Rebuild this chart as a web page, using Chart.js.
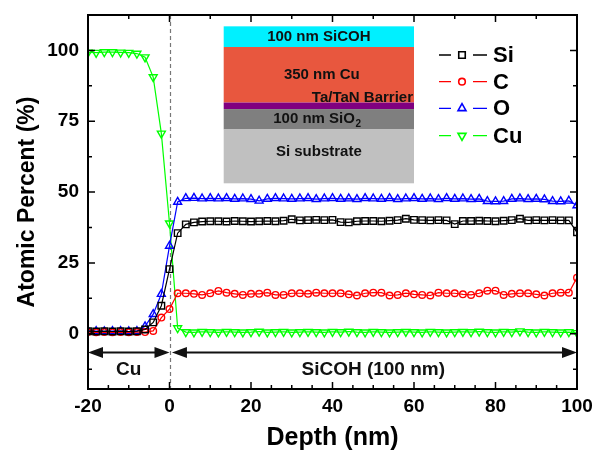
<!DOCTYPE html>
<html>
<head>
<meta charset="utf-8">
<script src="https://cdn.jsdelivr.net/npm/chart.js@4.4.0/dist/chart.umd.min.js"></script>
<style>
  html, body { margin: 0; padding: 0; background: #fff; }
  canvas { display: block; }
</style>
</head>
<body>
<canvas id="chart" width="594" height="453"></canvas>
<script>
// depth profile (nm) and atomic percent of each element
const depth = [-20, -18, -16, -14, -12, -10, -8, -6, -4, -2, 0, 2, 4, 6, 8, 10, 12, 14, 16, 18, 20,
    22, 24, 26, 28, 30, 32, 34, 36, 38, 40, 42, 44, 46, 48, 50, 52, 54, 56, 58, 60,
    62, 64, 66, 68, 70, 72, 74, 76, 78, 80, 82, 84, 86, 88, 90, 92, 94, 96, 98, 100];

const si = [0.9, 0.8, 0.9, 0.8, 0.9, 0.8, 0.9, 1.5, 4.0, 9.9, 22.8, 35.5,
    38.6, 39.3, 39.6, 39.7, 39.7, 39.6, 39.8, 39.7, 39.6, 39.7, 39.8, 39.7, 39.9, 40.4, 40.0, 40.1,
    40.2, 40.1, 40.2, 39.4, 39.3, 39.7, 39.8, 39.8, 39.7, 39.9, 40.1, 40.6, 40.2, 40.1, 40.0, 40.1,
    40.0, 38.7, 39.8, 39.8, 39.9, 39.8, 39.7, 39.9, 40.1, 40.6, 40.0, 40.1, 40.0, 40.1, 40.0, 40.0, 35.8];

const carbon = [0.6, 0.5, 0.6, 0.5, 0.6, 0.5, 0.6, 0.6, 1.0, 5.7, 8.7, 14.3,
    14.3, 14.1, 13.7, 14.3, 15.1, 14.5, 14.1, 13.7, 14.1, 14.1, 14.5, 13.7, 13.7, 14.3, 14.3, 14.1,
    14.5, 14.3, 14.3, 14.3, 13.9, 13.5, 14.3, 14.5, 14.5, 13.5, 13.7, 14.3, 13.9, 13.7, 13.5, 14.5,
    14.3, 14.3, 13.9, 13.7, 14.3, 15.2, 15.2, 13.7, 14.1, 14.3, 14.3, 13.9, 13.5, 14.3, 14.5, 14.5, 19.8];

const oxygen = [0.9, 0.9, 0.8, 0.9, 0.9, 0.8, 0.9, 2.6, 6.9, 14.0, 31.0, 46.5,
    47.8, 47.9, 47.7, 47.8, 47.7, 47.8, 47.6, 47.7, 47.5, 46.9, 47.6, 47.8, 47.7, 47.6, 47.7, 47.8,
    47.5, 47.7, 47.8, 47.6, 47.7, 47.5, 47.8, 47.7, 47.6, 47.8, 47.5, 47.7, 47.8, 47.6, 47.7, 47.5,
    47.8, 47.6, 47.7, 47.5, 47.6, 46.8, 46.7, 46.8, 47.6, 47.7, 47.5, 47.6, 47.4, 46.8, 46.7, 46.9, 45.3];

const copper = [99.3, 99.2, 99.4, 99.4, 99.3, 99.2, 98.9, 97.6, 90.6, 70.7, 39.0, 2.0,
    0.6, 0.5, 0.7, 0.6, 0.5, 0.7, 0.6, 0.5, 0.6, 0.8, 0.5, 0.6, 0.7, 0.5, 0.6, 0.7,
    0.6, 0.5, 0.7, 0.6, 0.8, 0.6, 0.5, 0.7, 0.6, 0.5, 0.6, 0.7, 0.6, 0.5, 0.7, 0.6,
    0.5, 0.6, 0.7, 0.6, 0.8, 0.6, 0.5, 0.7, 0.6, 0.9, 0.6, 0.5, 0.7, 0.6, 0.5, 0.6, 0.3];

const xTickLabels = [-20, 0, 20, 40, 60, 80, 100];
const yTickLabels = [0, 25, 50, 75, 100];

const FONT = "'Liberation Sans', Arial, sans-serif";

const series = [
    { label: 'Si', values: si, color: '#000000', style: 'rect', radius: 4.6, rotation: 0 },
    { label: 'C', values: carbon, color: '#ff0000', style: 'circle', radius: 3.3, rotation: 0 },
    { label: 'O', values: oxygen, color: '#0000ff', style: 'triangle', radius: 4.6, rotation: 0 },
    { label: 'Cu', values: copper, color: '#00ff00', style: 'triangle', radius: 4.6, rotation: 180 }
];

function drawMarker(ctx, s, x, y) {
    ctx.beginPath();
    if (s.style === 'rect') {
        const h = Math.SQRT1_2 * s.radius;
        ctx.rect(x - h, y - h, 2 * h, 2 * h);
    } else if (s.style === 'circle') {
        ctx.arc(x, y, s.radius, 0, Math.PI * 2);
    } else {
        let rad = s.rotation * Math.PI / 180;
        for (let k = 0; k < 3; k++) {
            const px = x + Math.sin(rad) * s.radius;
            const py = y - Math.cos(rad) * s.radius;
            if (k === 0) ctx.moveTo(px, py); else ctx.lineTo(px, py);
            rad += Math.PI * 2 / 3;
        }
        ctx.closePath();
    }
    ctx.stroke();
}

function arrowHead(ctx, tipX, y, dir) {
    ctx.beginPath();
    ctx.moveTo(tipX, y);
    ctx.lineTo(tipX - dir * 15, y - 5.5);
    ctx.lineTo(tipX - dir * 15, y + 5.5);
    ctx.closePath();
    ctx.fill();
}

const decorations = {
    id: 'decorations',
    beforeDatasetsDraw(chart) {
        const { ctx, chartArea: a, scales: { x } } = chart;
        ctx.save();
        ctx.strokeStyle = '#777';
        ctx.lineWidth = 1.2;
        ctx.setLineDash([4, 3]);
        const x0 = Math.round(x.getPixelForValue(0)) + 0.5;
        ctx.beginPath();
        ctx.moveTo(x0, a.top);
        ctx.lineTo(x0, a.bottom);
        ctx.stroke();
        ctx.restore();
    },
    afterDatasetsDraw(chart) {
        const { ctx, chartArea: a, scales: { x, y } } = chart;
        ctx.save();

        // layer stack inset
        const ix0 = x.getPixelForValue(13.3), ix1 = x.getPixelForValue(60);
        const layers = [
            [108.5, 101.2, '#00f0ff'],
            [101.2, 81.6, '#e8573e'],
            [81.6, 79.3, '#800080'],
            [79.3, 72.1, '#7f7f7f'],
            [72.1, 53.1, '#c0c0c0']
        ];
        layers.forEach(([top, bottom, color]) => {
            ctx.fillStyle = color;
            const py0 = y.getPixelForValue(top), py1 = y.getPixelForValue(bottom);
            ctx.fillRect(ix0, py0, ix1 - ix0, py1 - py0);
        });
        const cx = (ix0 + ix1) / 2;
        ctx.fillStyle = '#111';
        ctx.font = `bold 15px ${FONT}`;
        ctx.textAlign = 'center';
        ctx.textBaseline = 'middle';
        ctx.fillText('100 nm SiCOH', cx, y.getPixelForValue(104.9));
        ctx.fillText('350 nm Cu', cx + 3, y.getPixelForValue(91.3));
        ctx.fillText('Si substrate', cx, y.getPixelForValue(64.2));
        ctx.textAlign = 'right';
        ctx.fillText('Ta/TaN Barrier', ix1 - 1, y.getPixelForValue(83.3));
        // SiO2 with subscript
        const sioY = y.getPixelForValue(75.8);
        const mainTxt = '100 nm SiO';
        const wMain = ctx.measureText(mainTxt).width;
        ctx.font = `bold 10px ${FONT}`;
        const wSub = ctx.measureText('2').width;
        const sx = cx - 2 - (wMain + wSub) / 2;
        ctx.textAlign = 'left';
        ctx.font = `bold 15px ${FONT}`;
        ctx.fillText(mainTxt, sx, sioY);
        ctx.font = `bold 10px ${FONT}`;
        ctx.fillText('2', sx + wMain + 0.5, sioY + 5);

        // legend
        const lx = a.left + 351;
        const rows = [40, 66.7, 93.3, 120.7];
        series.forEach((s, i) => {
            const ly = a.top + rows[i];
            ctx.strokeStyle = s.color;
            ctx.lineWidth = 1.3;
            ctx.beginPath();
            ctx.moveTo(lx, ly);
            ctx.lineTo(lx + 12, ly);
            ctx.moveTo(lx + 34, ly);
            ctx.lineTo(lx + 48, ly);
            ctx.stroke();
            ctx.lineWidth = 1.6;
            drawMarker(ctx, s, lx + 23, ly);
            ctx.fillStyle = '#000';
            ctx.font = `bold 22px ${FONT}`;
            ctx.textAlign = 'left';
            ctx.textBaseline = 'middle';
            ctx.fillText(s.label, lx + 54, ly + 1);
        });

        // region arrows
        const regions = [
            { from: -20, to: 0, text: 'Cu', at: -10 },
            { from: 0.6, to: 100, text: 'SiCOH (100 nm)', at: 50 }
        ];
        const ay = y.getPixelForValue(-6.6);
        ctx.strokeStyle = '#111';
        ctx.fillStyle = '#111';
        ctx.lineWidth = 2;
        regions.forEach(r => {
            const p0 = x.getPixelForValue(r.from), p1 = x.getPixelForValue(r.to);
            ctx.beginPath();
            ctx.moveTo(p0 + 6, ay);
            ctx.lineTo(p1 - 6, ay);
            ctx.stroke();
            arrowHead(ctx, p0, ay, -1);
            arrowHead(ctx, p1, ay, 1);
            ctx.font = `bold 19px ${FONT}`;
            ctx.textAlign = 'center';
            ctx.textBaseline = 'middle';
            ctx.fillText(r.text, x.getPixelForValue(r.at), y.getPixelForValue(-12.7));
        });

        // frame and inward ticks
        ctx.strokeStyle = '#000';
        ctx.lineWidth = 2;
        ctx.strokeRect(a.left, a.top, a.right - a.left, a.bottom - a.top);
        ctx.lineWidth = 1.5;
        ctx.beginPath();
        for (let v = -20; v <= 100; v += 5) {
            const px = x.getPixelForValue(v);
            const len = v % 20 === 0 ? 7 : 4;
            ctx.moveTo(px, a.bottom);
            ctx.lineTo(px, a.bottom - len);
            if (v % 10 === 0) {
                ctx.moveTo(px, a.top);
                ctx.lineTo(px, a.top + len);
            }
        }
        for (let v = -12.5; v <= 112.5; v += 12.5) {
            const py = y.getPixelForValue(v);
            const len = v % 25 === 0 ? 7 : 4;
            ctx.moveTo(a.left, py);
            ctx.lineTo(a.left + len, py);
            ctx.moveTo(a.right, py);
            ctx.lineTo(a.right - len, py);
        }
        ctx.stroke();
        ctx.restore();
    }
};

new Chart(document.getElementById('chart'), {
    type: 'scatter',
    data: {
        datasets: series.map(s => ({
            label: s.label,
            data: depth.map((d, i) => ({ x: d, y: s.values[i] })),
            showLine: true,
            borderColor: s.color,
            borderWidth: 1.2,
            backgroundColor: 'rgba(0,0,0,0)',
            pointStyle: s.style,
            pointRotation: s.rotation,
            pointRadius: s.radius,
            pointBorderWidth: 1.4,
            pointBorderColor: s.color,
            pointBackgroundColor: 'rgba(0,0,0,0)'
        }))
    },
    options: {
        responsive: false,
        animation: false,
        layout: { padding: { top: 15, right: 17, bottom: 0, left: 0 } },
        plugins: {
            legend: { display: false },
            tooltip: { enabled: false }
        },
        scales: {
            x: {
                type: 'linear',
                min: -20,
                max: 100,
                grid: { display: false, drawTicks: false },
                border: { display: false },
                afterBuildTicks: scale => { scale.ticks = xTickLabels.map(v => ({ value: v })); },
                afterFit: scale => {
                    scale.height = 64;
                    scale.paddingLeft = 0;
                    scale.paddingRight = 0;
                },
                ticks: {
                    color: '#000',
                    padding: 6,
                    maxRotation: 0,
                    font: { family: FONT, size: 19, weight: 'bold' }
                },
                title: {
                    display: true,
                    text: 'Depth (nm)',
                    color: '#000',
                    padding: { top: 0, bottom: 0 },
                    font: { family: FONT, size: 25, weight: 'bold' }
                }
            },
            y: {
                type: 'linear',
                min: -19.5,
                max: 112.5,
                grid: { display: false, drawTicks: false },
                border: { display: false },
                afterBuildTicks: scale => { scale.ticks = yTickLabels.map(v => ({ value: v })); },
                afterFit: scale => {
                    scale.width = 88;
                    scale.paddingTop = 0;
                    scale.paddingBottom = 0;
                },
                ticks: {
                    color: '#000',
                    padding: 9,
                    font: { family: FONT, size: 19, weight: 'bold' }
                },
                title: {
                    display: true,
                    text: 'Atomic Percent (%)',
                    color: '#000',
                    padding: { top: 14, bottom: 0 },
                    font: { family: FONT, size: 23, weight: 'bold' }
                }
            }
        }
    },
    plugins: [decorations]
});
</script>
</body>
</html>
